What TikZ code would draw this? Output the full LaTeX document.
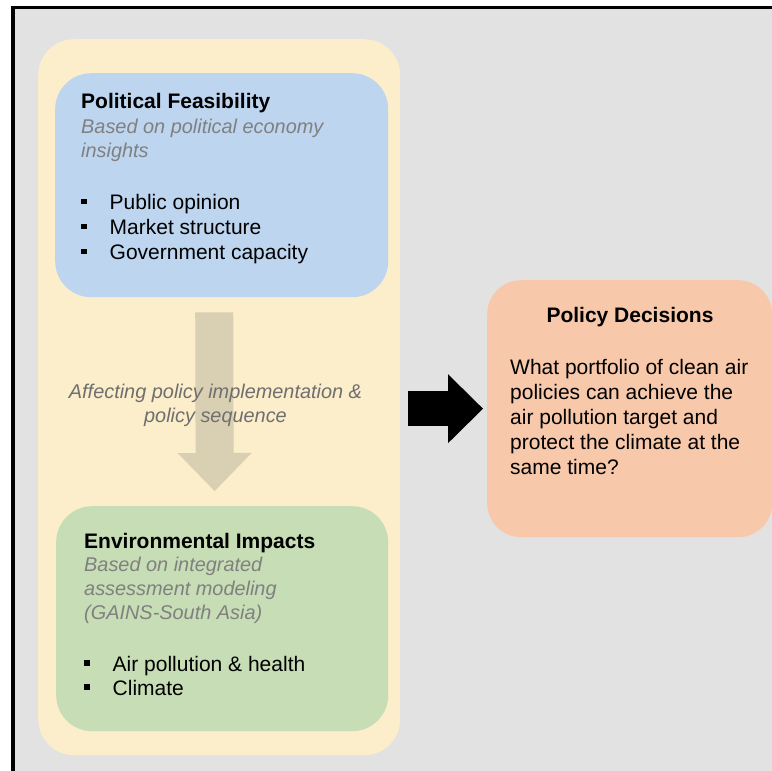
\documentclass[tikz,border=0pt]{standalone}
\usepackage{fontspec}
\setmainfont{Liberation Sans}
\usetikzlibrary{arrows.meta}
\definecolor{backgray}{HTML}{E2E2E2}
\definecolor{outeryellow}{HTML}{FCEDCB}
\definecolor{feasblue}{HTML}{BDD5EF}
\definecolor{envgreen}{HTML}{C7DDB5}
\definecolor{decorange}{HTML}{F7C8AA}
\definecolor{flowtan}{HTML}{D9CFB2}
\definecolor{subgray}{HTML}{808080}
\definecolor{midgray}{HTML}{6F6F6F}
\newcommand{\bodysize}{\fontsize{21}{24.5}\selectfont}
\newcommand{\subsize}{\fontsize{19.9}{24}\selectfont}
\newcommand{\bul}{\makebox[28.5pt][l]{\rule[5.5pt]{5.5pt}{5.5pt}}}
\tikzset{panel/.style={rounded corners=36pt, inner sep=0pt, anchor=north west},
  txt/.style={anchor=base west, inner sep=0pt, align=left, font=\bodysize},
  subtxt/.style={txt, text=subgray, font=\subsize\itshape},
  blockarrow/.style={line width=35pt, -{Triangle[length=35pt,width=69pt,line width=0pt]}},
  flowarrow/.style={flowtan, line width=38pt, -{Triangle[length=38pt,width=74pt,line width=0pt]}}}

\begin{document}
\begin{tikzpicture}[x=1pt,y=-1pt]
    \useasboundingbox (0,0) rectangle (772,771);
    % canvas and frame
    \fill[white] (0,0) rectangle (772,771);
    \fill[black] (11,6) rectangle (772,771);
    \fill[backgray] (15,9) rectangle (772,771);
    % panels
    \node[panel, fill=outeryellow, minimum width=362pt, minimum height=716pt] (outer) at (38,39) {};
    \node[panel, fill=feasblue, minimum width=333pt, minimum height=224pt] (feas) at (55,73) {};
    \node[panel, fill=envgreen, minimum width=332pt, minimum height=225pt] (env) at (56,506) {};
    \node[panel, fill=decorange, minimum width=285pt, minimum height=257pt, rounded corners=34pt] (dec) at (487,280) {};
    % arrows
    \draw[flowarrow, shorten <=15pt, shorten >=15pt] ([xshift=-7.5pt]feas.south) -- ([xshift=-7.5pt]env.north);
    \draw[blockarrow, shorten <=8pt, shorten >=4pt] (outer.east |- dec.west) -- (dec.west);
    % texts (base = last line)
    \node[txt] (feashead) at (81,108) {\bfseries Political Feasibility};
    \node[subtxt] (feassub) at (81,157) {Based on political economy\\insights};
    \node[txt, font=\fontsize{21}{25}\selectfont] (feaslist) at (81,259.5) {\bul Public opinion\\\bul Market structure\\\bul Government capacity};
    \node[txt, anchor=base, align=center, text=midgray, font=\subsize\itshape] (flowlabel) at (215.5,422) {Affecting policy implementation \&\\policy sequence};
    \node[txt] (envhead) at (84,548) {\bfseries Environmental Impacts};
    \node[subtxt, font=\fontsize{19.9}{23.7}\selectfont\itshape] (envsub) at (84,619) {Based on integrated\\assessment modeling\\(GAINS-South Asia)};
    \node[txt, font=\fontsize{21}{24}\selectfont] (envlist) at (84,695) {\bul Air pollution \& health\\\bul Climate};
    \node[txt, anchor=base] (dechead) at (630,322) {\bfseries Policy Decisions};
    \node[txt, font=\fontsize{21}{24.8}\selectfont] (decbody) at (510,474) {What portfolio of clean air\\policies can achieve the\\air pollution target and\\protect the climate at the\\same time?};
\end{tikzpicture}
\end{document}
